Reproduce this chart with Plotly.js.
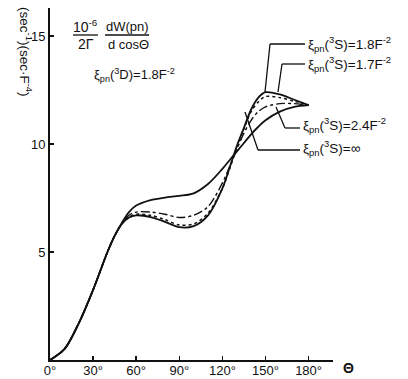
<!DOCTYPE html>
<html>
<head>
<meta charset="utf-8">
<script src="https://cdn.plot.ly/plotly-3.0.1.min.js"></script>
<style>html,body{margin:0;padding:0;background:#fff;}#chart{width:408px;height:379px;}</style>
</head>
<body>
<div id="chart"></div>
<script>
// Angle Θ in degrees
const theta = [0,10,20,30,40,45,50,55,60,70,80,90,100,110,120,125,130,135,140,145,150,160,170,180];
// ξpn(3S)=∞ (solid, highest around 90°)
const xiInf = [0,0.5,1.7,3.25,5.0,5.75,6.35,6.85,7.15,7.4,7.52,7.6,7.72,8.15,8.85,9.25,9.65,10.05,10.45,10.8,11.1,11.5,11.72,11.8];
// ξpn(3S)=2.4F^-2 (dash-dot)
const xi24 = [0,0.5,1.7,3.25,5.0,5.75,6.3,6.7,6.85,6.85,6.75,6.6,6.7,7.1,8.2,8.95,9.75,10.5,11.1,11.5,11.72,11.87,11.87,11.8];
// ξpn(3S)=1.8F^-2 (solid, lowest around 90°)
const xi18 = [0,0.5,1.7,3.25,5.0,5.75,6.3,6.6,6.7,6.62,6.4,6.15,6.2,6.7,7.95,8.9,9.9,10.75,11.6,12.15,12.4,12.3,12.05,11.8];
// ξpn(3S)=1.7F^-2 (dotted)
const xi17 = [0,0.5,1.7,3.25,5.0,5.75,6.3,6.62,6.75,6.7,6.5,6.25,6.3,6.8,7.95,8.85,9.8,10.7,11.5,11.95,12.2,12.15,11.98,11.8];

const xTickVals = [0,30,60,90,120,150,180];
const xTickText = ['0°','30°','60°','90°','120°','150°','180°'];
const yTickVals = [5,10,15];
const yTickText = ['5','10','15'];

const seriesLabels = ['ξ<sub>pn</sub>(<sup>3</sup>S)=1.8F<sup>-2</sup>','ξ<sub>pn</sub>(<sup>3</sup>S)=1.7F<sup>-2</sup>','ξ<sub>pn</sub>(<sup>3</sup>S)=2.4F<sup>-2</sup>','ξ<sub>pn</sub>(<sup>3</sup>S)=∞'];

const FONT = 'Liberation Sans, Arial, sans-serif';
const W = 408, H = 379, L = 50, R = 75, T = 8, B = 19;
const pw = W - L - R, ph = H - T - B;
const PX = px => (px - L) / pw;
const PY = py => (H - B - py) / ph;

function tr(y, dash, w) {
  return {x: theta, y: y, type: 'scatter', mode: 'lines',
    line: {color: '#111', width: w, dash: dash, shape: 'spline', smoothing: 0.9},
    hoverinfo: 'skip', showlegend: false};
}
const data = [tr(xiInf,'solid',1.8), tr(xi24,'dashdot',1.4), tr(xi18,'solid',1.8), tr(xi17,'dot',1.5)];

function seg(x0,y0,x1,y1){
  return {type:'line', xref:'paper', yref:'paper', x0:PX(x0), y0:PY(y0), x1:PX(x1), y1:PY(y1), line:{color:'#111', width:1.3}};
}
const shapes = [
  // fraction bars
  seg(73,35,98,35), seg(105,35,149,35),
  // leaders
  seg(305,44,270,44), seg(270,44,265,92),
  seg(305,64,282,64), seg(282,64,278,92),
  seg(300,128,285,128), seg(285,128,276,107),
  seg(300,150,258,150), seg(258,150,245,112)
];
function ann(text, px, py, xa, size, extra){
  return Object.assign({text:text, xref:'paper', yref:'paper', x:PX(px), y:PY(py), xanchor:xa, yanchor:'middle',
    showarrow:false, font:{family:FONT, size:size, color:'#111'}}, extra||{});
}
const annotations = [
  ann('10<sup>-6</sup>', 85.5, 26, 'center', 14),
  ann('2Γ', 85.5, 44, 'center', 14),
  ann('dW(pn)', 127, 27, 'center', 13),
  ann('d cosΘ', 128, 44, 'center', 13),
  ann('ξ<sub>pn</sub>(<sup>3</sup>D)=1.8F<sup>-2</sup>', 92, 75, 'left', 13),
  ann(seriesLabels[0], 306, 44, 'left', 13.5),
  ann(seriesLabels[1], 306, 64, 'left', 13.5),
  ann(seriesLabels[2], 301, 125, 'left', 13.5),
  ann(seriesLabels[3], 301, 148, 'left', 13.5),
  ann('(sec<sup>-1</sup>)(sec·F<sup>-4</sup>)', 26, 52, 'center', 13.5, {textangle:90}),
  ann('<b>Θ</b>', 348, 368, 'center', 14)
];

const layout = {
  width: W, height: H,
  margin: {l: L, r: R, t: T, b: B, pad: 0},
  paper_bgcolor: '#fff', plot_bgcolor: '#fff',
  showlegend: false,
  xaxis: {range: [0, 197], tickvals: xTickVals, ticktext: xTickText, ticks: 'inside', ticklen: 4, tickwidth: 1.5,
    tickcolor: '#111', showline: true, linecolor: '#111', linewidth: 2, showgrid: false, zeroline: false,
    ticklabelstandoff: -3,
    tickfont: {family: FONT, size: 13, color: '#111'}, fixedrange: true},
  yaxis: {range: [0, 16.3], tickvals: yTickVals, ticktext: yTickText, ticks: 'inside', ticklen: 4, tickwidth: 1.5,
    tickcolor: '#111', showline: true, linecolor: '#111', linewidth: 2, showgrid: false, zeroline: false,
    tickfont: {family: FONT, size: 13, color: '#111'}, fixedrange: true},
  shapes: shapes,
  annotations: annotations
};
Plotly.newPlot('chart', data, layout, {staticPlot: true, displayModeBar: false});
</script>
</body>
</html>
